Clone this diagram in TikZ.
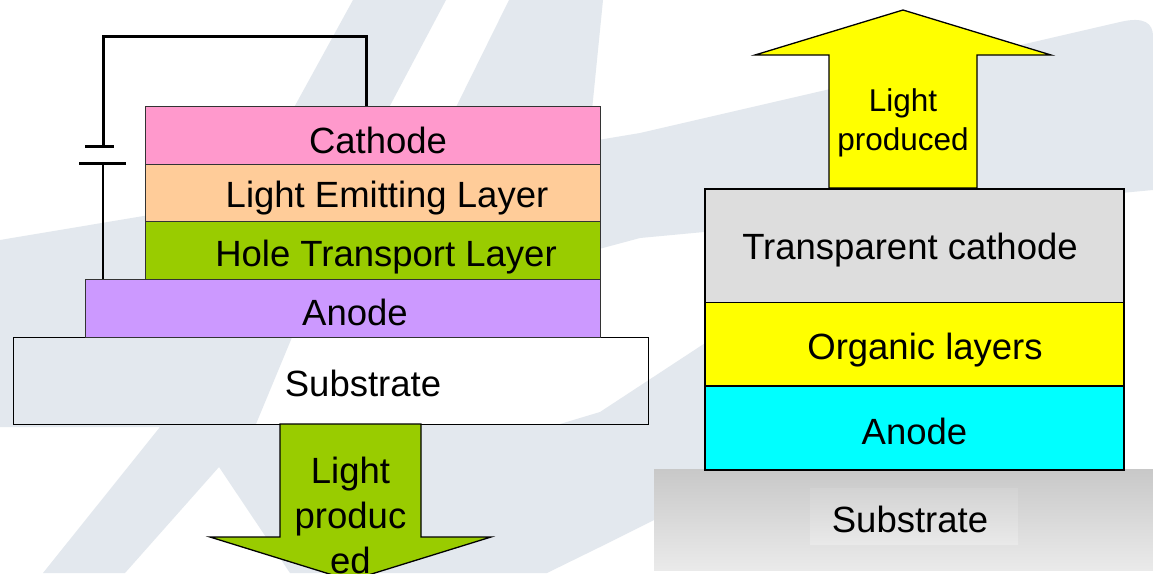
\documentclass[tikz,border=0pt]{standalone}
\usepackage{fontspec}
\setmainfont{Liberation Sans}
\definecolor{wm}{RGB}{227,232,238}
\definecolor{cathpink}{HTML}{FF99CC}
\definecolor{emitpeach}{HTML}{FFCC99}
\definecolor{htlgreen}{HTML}{99CC00}
\definecolor{anodepurple}{HTML}{CC99FF}
\definecolor{tcgray}{HTML}{DDDDDD}
\definecolor{orgyellow}{HTML}{FFFF00}
\definecolor{anodecyan}{HTML}{00FFFF}
\definecolor{subtop}{RGB}{200,200,200}
\definecolor{subbot}{RGB}{234,234,234}
\begin{document}
\begin{tikzpicture}[x=1pt,y=-1pt,
  layer/.style={draw=black!80, line width=1.2pt, inner sep=0pt, anchor=north west},
  rlayer/.style={draw=black, line width=1.8pt, inner sep=0pt, anchor=north west},
  lbl/.style={anchor=base, inner sep=0pt, font=\fontsize{36.5}{45}\selectfont},
  wire/.style={line width=3pt, black},
  bigarrow/.style={draw=black, line width=1.3pt, line join=miter}]
\useasboundingbox (0,0) rectangle (1153,573);
\clip (0,0) rectangle (1153,573);
\fill[white] (0,0) rectangle (1153,573);

% faint logo in the background
\fill[wm] (0,240) -- (640,133) -- (1120,22) .. controls (1145,16) and (1153,24) .. (1153,36)
  -- (1153,190) -- (640,238) -- (0,410) -- cycle;
\fill[wm] (353,0) -- (446,0) -- (340,200) -- (235,215) -- cycle;
\fill[wm] (509,0) -- (603,0) -- (588,150) -- (420,180) -- cycle;
\fill[wm] (0,395) -- (150,358) -- (300,318) -- (256,424) -- (560,424) -- (600,412)
  -- (725,330) -- (725,469) -- (654,469) -- (654,520) -- (600,547) -- (547,573)
  -- (290,573) -- (219,467) -- (125,573) -- (43,573) -- (160,427) -- (0,427) -- cycle;

% ---- bottom-emitting stack ----
\node[draw=black, line width=1.2pt, inner sep=0pt, anchor=north west,
  minimum width=635pt, minimum height=87pt] (lsub) at (12.5,337) {};
\node[lbl] at (363,396) {Substrate};

\draw[bigarrow, fill=htlgreen] (280,424) -- (421,424) -- (421,537) -- (491,537)
  -- (350.5,580.5) -- (210,537) -- (280,537) -- cycle;
\node[lbl, align=center] (lout) at (350.5,573) {Light\\produc\\ed};

\coordinate (wc) at (366,106);
\coordinate (tl) at (103,36);
\coordinate (pa) at (103,146);
\coordinate (pb) at (103,163);
\coordinate (anw) at (103,279);
\draw[wire] (wc) |- (tl) -- (pa);
\draw[wire] (85,146) -- (114,146);
\draw[wire] (79,163.5) -- (126,163.5);
\draw[line width=2.2pt] (pb) -- (anw);

\node[layer, fill=anodepurple, minimum width=515pt, minimum height=58pt] (lan) at (85,279) {};
\node[layer, fill=htlgreen, minimum width=455pt, minimum height=58pt] (htl) at (145,221) {};
\node[layer, fill=emitpeach, minimum width=455pt, minimum height=57pt] (eml) at (145,164) {};
\node[layer, fill=cathpink, minimum width=455pt, minimum height=58pt] (cath) at (145,106) {};
\node[lbl] at (378,153) {Cathode};
\node[lbl] at (387,207) {Light Emitting Layer};
\node[lbl] at (386,266) {Hole Transport Layer};
\node[lbl] at (355,325) {Anode};

% ---- top-emitting stack ----
\shade[top color=subtop, bottom color=subbot] (654,469) rectangle (1153,570);
\node[inner sep=0pt, anchor=north west, minimum width=208pt, minimum height=56pt,
  top color={rgb,255:red,211;green,211;blue,211}, bottom color={rgb,255:red,233;green,233;blue,233}]
  (rsub) at (810,488) {};
\node[lbl] at (910,532) {Substrate};

\draw[bigarrow, fill=orgyellow] (829,188) -- (829,55) -- (755,55) -- (903,10)
  -- (1051,55) -- (977,55) -- (977,188) -- cycle;
\node[lbl, font=\fontsize{31.5}{38.5}\selectfont, align=center] (rout) at (903,150) {Light\\produced};

\node[rlayer, fill=anodecyan, minimum width=419pt, minimum height=84pt] (ran) at (704,385) {};
\node[rlayer, fill=orgyellow, minimum width=419pt, minimum height=83.5pt] (org) at (704,301.5) {};
\node[rlayer, fill=tcgray, minimum width=419pt, minimum height=113.5pt] (tc) at (704,188) {};
\node[lbl] at (910,259.5) {Transparent cathode};
\node[lbl] at (925,359.5) {Organic layers};
\node[lbl] at (914.5,444) {Anode};
\end{tikzpicture}
\end{document}
